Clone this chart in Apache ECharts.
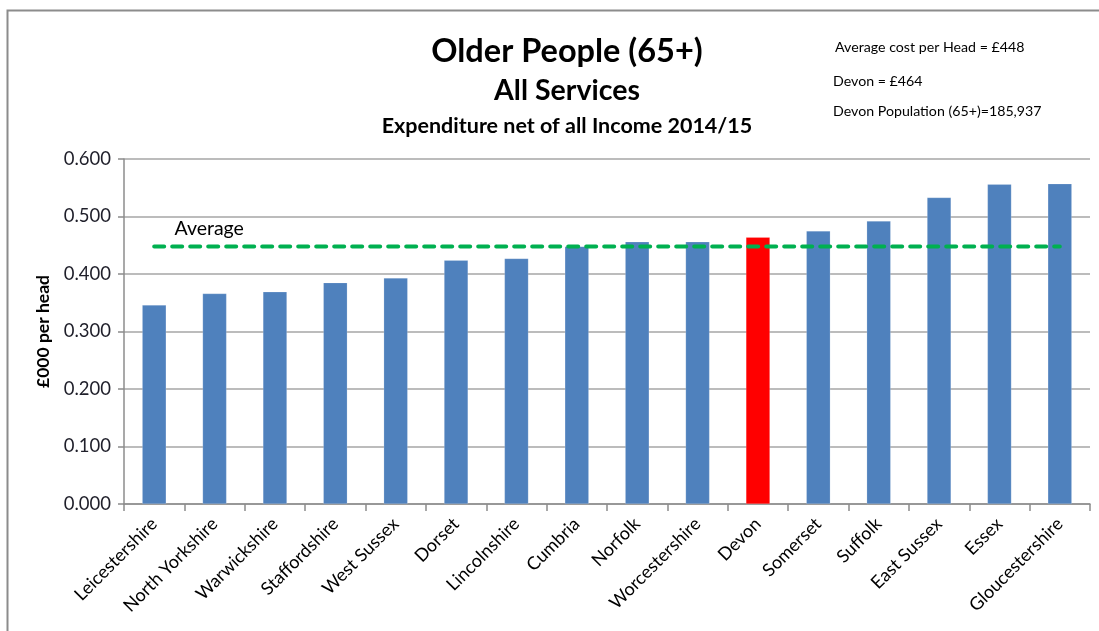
<!DOCTYPE html>
<html>
<head>
<meta charset="utf-8">
<title>Older People (65+) – All Services</title>
<script src="https://cdn.jsdelivr.net/npm/echarts@6/dist/echarts.min.js"></script>
<style>
  html, body { margin: 0; padding: 0; background: #fff; }
  #chart { width: 1099px; height: 631px; }
</style>
</head>
<body>
<div id="chart"></div>
<script>
// Net expenditure per head (£000) on all services for older people, 2014/15
const councils = [
  'Leicestershire', 'North Yorkshire', 'Warwickshire', 'Staffordshire', 'West Sussex',
  'Dorset', 'Lincolnshire', 'Cumbria', 'Norfolk', 'Worcestershire',
  'Devon', 'Somerset', 'Suffolk', 'East Sussex', 'Essex', 'Gloucestershire'
];
const costPerHead = [
  0.346, 0.366, 0.369, 0.385, 0.393,
  0.424, 0.427, 0.448, 0.456, 0.456,
  0.464, 0.475, 0.492, 0.533, 0.556, 0.557
];
const averageCost = 0.448;
const highlighted = 'Devon';
const yTicks = { min: 0, max: 0.6, interval: 0.1 };
const notes = [
  'Average cost per Head = £448',
  'Devon = £464',
  'Devon Population (65+)=185,937'
];

const FONT = 'Lato, "Open Sans", "Noto Sans", sans-serif';
const BLUE = '#4F81BD';
const RED = '#FF0000';
const GREEN = '#00B050';

const chart = echarts.init(document.getElementById('chart'), null, { renderer: 'canvas' });

const barData = costPerHead.map((v, i) => ({
  value: v,
  itemStyle: { color: councils[i] === highlighted ? RED : BLUE }
}));

// Average reference line; only the first point carries the "Average" caption
const avgData = councils.map((c, i) => i === 0
  ? { value: averageCost, label: { show: true } }
  : averageCost);

chart.setOption({
  animation: false,
  textStyle: { fontFamily: FONT },
  graphic: [
    // chart frame
    {
      type: 'polyline',
      shape: { points: [[7.5, 631], [7.5, 10.5], [1099, 10.5]] },
      style: { stroke: '#8c8c8c', lineWidth: 2, fill: null },
      silent: true
    },
    {
      type: 'text', x: 567, y: 52,
      style: { text: 'Older People (65+)', fontFamily: FONT, fontWeight: 'bold', fontSize: 32.5, fill: '#000', align: 'center', verticalAlign: 'middle' }
    },
    {
      type: 'text', x: 567, y: 91,
      style: { text: 'All Services', fontFamily: FONT, fontWeight: 'bold', fontSize: 28.5, fill: '#000', align: 'center', verticalAlign: 'middle' }
    },
    {
      type: 'text', x: 567, y: 126,
      style: { text: 'Expenditure net of all Income 2014/15', fontFamily: FONT, fontWeight: 'bold', fontSize: 21.5, fill: '#000', align: 'center', verticalAlign: 'middle' }
    },
    {
      type: 'text', x: 835, y: 47,
      style: { text: notes[0], fontFamily: FONT, fontSize: 14.2, fill: '#000', align: 'left', verticalAlign: 'middle' }
    },
    {
      type: 'text', x: 833, y: 81,
      style: { text: notes[1], fontFamily: FONT, fontSize: 14.2, fill: '#000', align: 'left', verticalAlign: 'middle' }
    },
    {
      type: 'text', x: 833, y: 111,
      style: { text: notes[2], fontFamily: FONT, fontSize: 14.2, fill: '#000', align: 'left', verticalAlign: 'middle' }
    }
  ],
  grid: { left: 124, right: 9, top: 159, bottom: 127, containLabel: false },
  xAxis: {
    type: 'category',
    data: councils,
    boundaryGap: true,
    axisLine: { lineStyle: { color: '#8c8c8c', width: 1.5 } },
    axisTick: { show: true, alignWithLabel: false, length: 7, lineStyle: { color: '#8c8c8c', width: 1.5 } },
    axisLabel: { rotate: 45, fontSize: 18, color: '#000', margin: 17, interval: 0, fontFamily: FONT },
    splitLine: { show: false }
  },
  yAxis: {
    type: 'value',
    min: yTicks.min,
    max: yTicks.max,
    interval: yTicks.interval,
    name: '£000 per head',
    nameLocation: 'middle',
    nameRotate: 90,
    nameGap: 70,
    nameTextStyle: { fontSize: 17.5, fontWeight: 'bold', color: '#000', fontFamily: FONT },
    axisLine: { show: true, lineStyle: { color: '#8c8c8c', width: 1.5 } },
    axisTick: { show: true, length: 6, lineStyle: { color: '#8c8c8c', width: 1.5 } },
    axisLabel: { fontSize: 18.5, color: '#1f1f2a', margin: 13, formatter: v => v.toFixed(3), fontFamily: FONT },
    splitLine: { show: true, lineStyle: { color: '#a6a6a6', width: 1.5 } }
  },
  series: [
    {
      type: 'bar',
      data: barData,
      barWidth: 24,
      itemStyle: { borderColor: 'rgba(255,255,255,0.35)', borderWidth: 0.5 }
    },
    {
      type: 'line',
      data: avgData,
      symbol: 'circle',
      symbolSize: 0,
      showSymbol: true,
      itemStyle: { color: GREEN },
      lineStyle: { color: GREEN, width: 4, type: [10, 8], cap: 'round' },
      label: {
        show: false,
        formatter: 'Average',
        position: 'top',
        distance: 5,
        offset: [55, -3],
        fontSize: 19.5,
        color: '#000',
        fontFamily: FONT
      },
      z: 5
    }
  ]
});
</script>
</body>
</html>
